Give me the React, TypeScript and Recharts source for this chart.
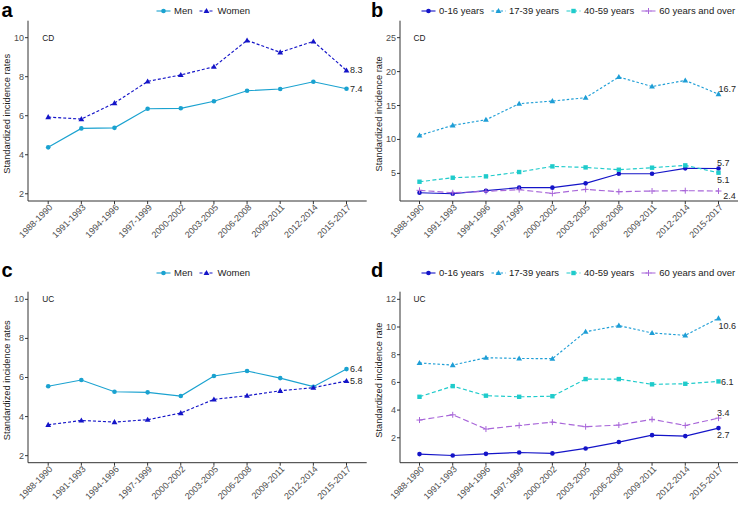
import React from 'react';
import { LineChart, Line, XAxis, YAxis, ReferenceDot } from 'recharts';

// ---------- data ----------
const periods = [
  '1988-1990', '1991-1993', '1994-1996', '1997-1999', '2000-2002',
  '2003-2005', '2006-2008', '2009-2011', '2012-2014', '2015-2017',
];

const cdMen = [4.38, 5.35, 5.38, 6.36, 6.38, 6.74, 7.28, 7.37, 7.74, 7.38];
const cdWomen = [5.93, 5.83, 6.65, 7.76, 8.09, 8.51, 9.86, 9.25, 9.81, 8.32];
const ucMen = [5.55, 5.87, 5.27, 5.24, 5.05, 6.08, 6.33, 5.97, 5.53, 6.43];
const ucWomen = [3.58, 3.8, 3.72, 3.84, 4.18, 4.88, 5.07, 5.32, 5.48, 5.82];

const cdAge0to16 = [2.15, 2.0, 2.45, 2.9, 2.9, 3.53, 4.95, 4.95, 5.74, 5.72];
const cdAge17to39 = [10.6, 12.08, 12.9, 15.27, 15.66, 16.15, 19.2, 17.8, 18.7, 16.68];
const cdAge40to59 = [3.77, 4.36, 4.56, 5.2, 6.03, 5.88, 5.54, 5.84, 6.18, 5.1];
const cdAge60plus = [2.5, 2.15, 2.35, 2.6, 2.05, 2.64, 2.3, 2.4, 2.45, 2.4];

const ucAge0to16 = [0.82, 0.72, 0.84, 0.94, 0.87, 1.23, 1.69, 2.19, 2.12, 2.7];
const ucAge17to39 = [7.4, 7.25, 7.78, 7.73, 7.71, 9.66, 10.1, 9.57, 9.4, 10.63];
const ucAge40to59 = [4.96, 5.73, 5.04, 4.96, 5.0, 6.24, 6.24, 5.86, 5.9, 6.07];
const ucAge60plus = [3.28, 3.66, 2.63, 2.89, 3.13, 2.8, 2.92, 3.33, 2.89, 3.42];

const sexTicks = [2, 4, 6, 8, 10];
const cdAgeTicks = [5, 10, 15, 20, 25];
const ucAgeTicks = [2, 4, 6, 8, 10, 12];

// ---------- styles ----------
const FONT = '"Liberation Sans", Arial, Helvetica, sans-serif';
const AXIS = '#333333';
const TICK_TEXT = '#4D4D4D';

const MEN = '#1AA2D0';
const WOMEN = '#1414C8';
const AGE_0 = '#1414C8';
const AGE_17 = '#1E9ED6';
const AGE_40 = '#1FCBCB';
const AGE_60 = '#A866D9';

type Shape = 'circle' | 'triangle' | 'square' | 'plus';

interface SeriesDef {
  key: string;
  name: string;
  color: string;
  dash?: string;
  shape: Shape;
}

interface LabelOffset {
  dx: number;
  dy: number;
}

const sexSeries: SeriesDef[] = [
  { key: 'men', name: 'Men', color: MEN, shape: 'circle' },
  { key: 'women', name: 'Women', color: WOMEN, dash: '3 2', shape: 'triangle' },
];

const ageSeries: SeriesDef[] = [
  { key: 'a0', name: '0-16 years', color: AGE_0, shape: 'circle' },
  { key: 'a17', name: '17-39 years', color: AGE_17, dash: '2.5 2', shape: 'triangle' },
  { key: 'a40', name: '40-59 years', color: AGE_40, dash: '4 2.5', shape: 'square' },
  { key: 'a60', name: '60 years and over', color: AGE_60, dash: '6 3', shape: 'plus' },
];

const marker = (shape: Shape, color: string, cx: number, cy: number, key?: string | number) => {
  if (cx == null || cy == null) return <g key={key} />;
  switch (shape) {
    case 'circle':
      return <circle key={key} cx={cx} cy={cy} r={2.3} fill={color} />;
    case 'triangle':
      return (
        <polygon
          key={key}
          points={`${cx},${cy - 3} ${cx - 2.9},${cy + 2.1} ${cx + 2.9},${cy + 2.1}`}
          fill={color}
        />
      );
    case 'square':
      return <rect key={key} x={cx - 2.2} y={cy - 2.2} width={4.4} height={4.4} fill={color} />;
    default:
      return (
        <path
          key={key}
          d={`M${cx - 3},${cy}H${cx + 3}M${cx},${cy - 3}V${cy + 3}`}
          stroke={color}
          strokeWidth={1}
        />
      );
  }
};

const XTick = ({ x, y, payload }: any) => (
  <text
    x={x + 1}
    y={y}
    transform={`rotate(-45 ${x + 1} ${y})`}
    textAnchor="end"
    dy="0.62em"
    fontFamily={FONT}
    fontSize={9}
    fill={TICK_TEXT}
  >
    {payload.value}
  </text>
);

const YTick = ({ x, y, payload }: any) => (
  <text
    x={x}
    y={y}
    textAnchor="end"
    dominantBaseline="central"
    fontFamily={FONT}
    fontSize={9}
    fill={TICK_TEXT}
  >
    {payload.value}
  </text>
);

interface PanelProps {
  left: number;
  top: number;
  height: number;
  marginTop: number;
  marginRight: number;
  yWidth: number;
  xHeight: number;
  xPad: number;
  domain: [number, number];
  ticks: number[];
  rows: any[];
  series: SeriesDef[];
  offsets: LabelOffset[];
  tag: string;
  title: string;
  titleX: number;
}

const Panel = (p: PanelProps) => {
  const last = p.rows.length - 1;
  return (
    <div style={{ position: 'absolute', left: p.left, top: p.top }}>
      <LineChart
        width={370}
        height={p.height}
        data={p.rows}
        margin={{ top: p.marginTop, right: p.marginRight, left: 0, bottom: 0 }}
      >
        <XAxis
          dataKey="period"
          height={p.xHeight}
          interval={0}
          padding={{ left: p.xPad, right: p.xPad }}
          stroke={AXIS}
          tickSize={3}
          tickMargin={0}
          tick={<XTick />}
        />
        <YAxis
          type="number"
          width={p.yWidth}
          domain={p.domain}
          ticks={p.ticks}
          stroke={AXIS}
          tickSize={3}
          tickMargin={1}
          tick={<YTick />}
          label={(lp: any) => {
            const vb = lp.viewBox;
            const cy = vb.y + vb.height / 2 + 3;
            return (
              <text
                x={p.titleX}
                y={cy}
                transform={`rotate(-90 ${p.titleX} ${cy})`}
                textAnchor="middle"
                dominantBaseline="central"
                fontFamily={FONT}
                fontSize={9.3}
                fill="#1A1A1A"
              >
                {p.title}
              </text>
            );
          }}
        />
        <ReferenceDot
          x={p.rows[0].period}
          y={p.ticks[p.ticks.length - 1]}
          r={0}
          fill="none"
          stroke="none"
          label={{
            value: p.tag,
            position: 'center',
            fontFamily: FONT,
            fontSize: 8.3,
            fill: '#1A1A1A',
          }}
        />
        {p.series.map((s, si) => (
          <Line
            key={s.key}
            dataKey={s.key}
            name={s.name}
            type="linear"
            stroke={s.color}
            strokeWidth={1.15}
            strokeDasharray={s.dash}
            isAnimationActive={false}
            dot={(d: any) => marker(s.shape, s.color, d.cx, d.cy, `${s.key}-${d.index}`)}
            activeDot={false}
            label={(lp: any) => {
              if (lp.index !== last) return <g key={`${s.key}-l${lp.index}`} />;
              const o = p.offsets[si];
              return (
                <text
                  key={`${s.key}-l${lp.index}`}
                  x={lp.x + o.dx}
                  y={lp.y + o.dy}
                  dominantBaseline="central"
                  fontFamily={FONT}
                  fontSize={9}
                  fill="#262626"
                >
                  {Number(lp.value).toFixed(1)}
                </text>
              );
            }}
          />
        ))}
      </LineChart>
    </div>
  );
};

const LegendKey = ({ s }: { s: SeriesDef }) => (
  <svg width={15} height={10} style={{ display: 'block' }}>
    <line x1={0.5} x2={14.5} y1={5} y2={5} stroke={s.color} strokeWidth={1.1} strokeDasharray={s.dash} />
    {marker(s.shape, s.color, 7.5, 5)}
  </svg>
);

const LegendRow = ({ left, centerY, series }: { left: number; centerY: number; series: SeriesDef[] }) => (
  <div
    style={{
      position: 'absolute',
      left,
      top: centerY - 6,
      height: 12,
      display: 'flex',
      alignItems: 'center',
      gap: 7,
      fontFamily: FONT,
      fontSize: 9.5,
      lineHeight: '12px',
      color: '#1A1A1A',
      whiteSpace: 'nowrap',
    }}
  >
    {series.map((s) => (
      <div key={s.key} style={{ display: 'flex', alignItems: 'center', gap: 3 }}>
        <LegendKey s={s} />
        <span>{s.name}</span>
      </div>
    ))}
  </div>
);

const sexRows = (men: number[], women: number[]) =>
  periods.map((period, i) => ({ period, men: men[i], women: women[i] }));

const ageRows = (a0: number[], a17: number[], a40: number[], a60: number[]) =>
  periods.map((period, i) => ({ period, a0: a0[i], a17: a17[i], a40: a40[i], a60: a60[i] }));

export default function App() {
  return (
    <div
      style={{
        position: 'absolute',
        left: 0,
        top: 0,
        width: 740,
        height: 505,
        background: '#FFFFFF',
        overflow: 'hidden',
        fontFamily: FONT,
      }}
    >
      <Panel
        left={0}
        top={0}
        height={250}
        marginTop={20.7}
        marginRight={3.3}
        yWidth={28}
        xHeight={49}
        xPad={20.2}
        domain={[1.63, 10.87]}
        ticks={sexTicks}
        rows={sexRows(cdMen, cdWomen)}
        series={sexSeries}
        offsets={[
          { dx: 3.5, dy: 0 },
          { dx: 3.5, dy: 0 },
        ]}
        tag="CD"
        title="Standardized incidence rates"
        titleX={7}
      />
      <Panel
        left={370}
        top={0}
        height={250}
        marginTop={20.7}
        marginRight={2}
        yWidth={30}
        xHeight={49}
        xPad={19.5}
        domain={[0.93, 27.5]}
        ticks={cdAgeTicks}
        rows={ageRows(cdAge0to16, cdAge17to39, cdAge40to59, cdAge60plus)}
        series={ageSeries}
        offsets={[
          { dx: -1.6, dy: -5 },
          { dx: 0, dy: -5.3 },
          { dx: -1.6, dy: 7.3 },
          { dx: 4.7, dy: 5 },
        ]}
        tag="CD"
        title="Standardized incidence rate"
        titleX={9}
      />
      <Panel
        left={0}
        top={250}
        height={255}
        marginTop={41.7}
        marginRight={3.3}
        yWidth={28}
        xHeight={42.3}
        xPad={20.2}
        domain={[1.64, 10.39]}
        ticks={sexTicks}
        rows={sexRows(ucMen, ucWomen)}
        series={sexSeries}
        offsets={[
          { dx: 3.5, dy: 0 },
          { dx: 3.5, dy: 0 },
        ]}
        tag="UC"
        title="Standardized incidence rates"
        titleX={7}
      />
      <Panel
        left={370}
        top={250}
        height={255}
        marginTop={41.7}
        marginRight={2}
        yWidth={30}
        xHeight={42.3}
        xPad={19.5}
        domain={[0.2, 12.55]}
        ticks={ucAgeTicks}
        rows={ageRows(ucAge0to16, ucAge17to39, ucAge40to59, ucAge60plus)}
        series={ageSeries}
        offsets={[
          { dx: -1.6, dy: 7 },
          { dx: 0, dy: 7.7 },
          { dx: 2.4, dy: 0.7 },
          { dx: -1.6, dy: -5.4 },
        ]}
        tag="UC"
        title="Standardized incidence rate"
        titleX={9}
      />

      <LegendRow left={156} centerY={11} series={sexSeries} />
      <LegendRow left={421} centerY={11} series={ageSeries} />
      <LegendRow left={156} centerY={272.7} series={sexSeries} />
      <LegendRow left={421} centerY={272.7} series={ageSeries} />

      <svg
        width={740}
        height={505}
        style={{ position: 'absolute', left: 0, top: 0, pointerEvents: 'none' }}
      >
        <g fontFamily={FONT} fontWeight="bold" fontSize={20} fill="#000000">
          <text x={1.5} y={16.5}>a</text>
          <text x={371} y={16.5}>b</text>
          <text x={1.5} y={277}>c</text>
          <text x={371} y={276.5}>d</text>
        </g>
      </svg>
    </div>
  );
}
